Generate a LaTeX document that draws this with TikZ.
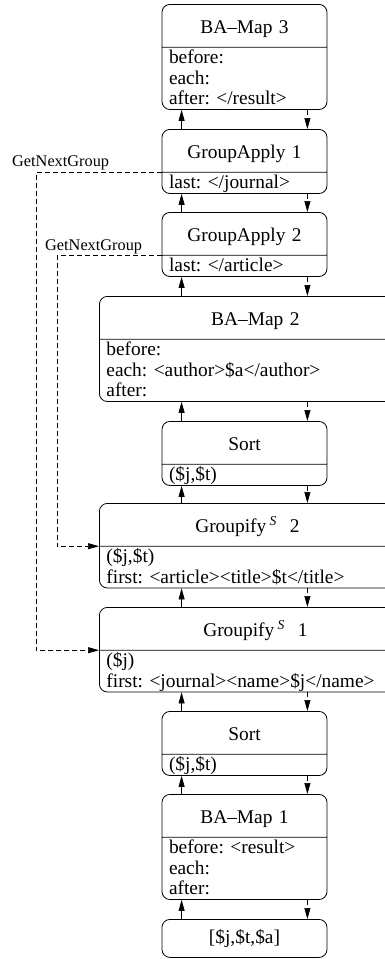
\documentclass[tikz,border=0pt]{standalone}
\usepackage{fontspec}
\setmainfont{Liberation Serif}
\usetikzlibrary{arrows.meta, shapes.multipart}
\frenchspacing

\newcommand{\boxfont}{\fontsize{19.4}{20.5}\selectfont\lineskiplimit=1000pt\relax\lineskip=0pt\relax}
\newcommand{\tstrut}{\rule[-13pt]{0pt}{42pt}}
\newcommand{\lstrut}{\rule[-4.5pt]{0pt}{20.5pt}}
\newcommand{\ttl}[1]{\hfill\tstrut #1\hfill\null}

\begin{document}
\begin{tikzpicture}[
    font=\boxfont,
    op/.style={rectangle split, rectangle split parts=2, draw, line width=0.8pt, rounded corners=8pt,
      inner xsep=7pt, inner ysep=0pt, text width=151pt, align=left, anchor=north},
    wide/.style={op, text width=298pt, anchor=north west},
    src/.style={draw, line width=0.8pt, rounded corners=8pt, inner xsep=7pt, inner ysep=0pt,
      text width=151pt, align=center, anchor=north},
    up/.style={-{Triangle[length=11pt,width=6pt]}, line width=0.7pt},
    dn/.style={up, dash pattern=on 5pt off 3pt},
    lbl/.style={font=\fontsize{16.3}{18}\selectfont, inner sep=0pt}
  ]
  \path[use as bounding box, clip] (0,0) rectangle (385pt,-959pt);

  \node[op] (bam3) at (244.5pt,-4pt)
    {\ttl{BA--Map 3}\nodepart{two}\lstrut before:\\\lstrut each:\\\lstrut after: </result>};
  \node[op] (ga1) at (244.5pt,-129pt)
    {\ttl{GroupApply 1}\nodepart{two}\lstrut last: </journal>};
  \node[op] (ga2) at (244.5pt,-212pt)
    {\ttl{GroupApply 2}\nodepart{two}\lstrut last: </article>};
  \node[wide] (bam2) at (99pt,-296pt)
    {\ttl{BA--Map 2}\nodepart{two}\lstrut before:\\\lstrut each: <author>\$a</author>\\\lstrut after:};
  \node[op] (sorta) at (244.5pt,-421pt)
    {\ttl{Sort}\nodepart{two}\lstrut (\$j,\$t)};
  \node[wide, text width=282pt] (grp2) at (99pt,-503pt)
    {\ttl{Groupify\,\textsuperscript{\textit{S}}\ \ 2}\nodepart{two}\lstrut (\$j,\$t)\\\lstrut first: <article><title>\$t</title>};
  \node[wide] (grp1) at (99pt,-607pt)
    {\ttl{Groupify\,\textsuperscript{\textit{S}}\ \ 1}\nodepart{two}\lstrut (\$j)\\\lstrut first: <journal><name>\$j</name>};
  \node[op] (sortb) at (244.5pt,-711pt)
    {\ttl{Sort}\nodepart{two}\lstrut (\$j,\$t)};
  \node[op] (bam1) at (244.5pt,-794pt)
    {\ttl{BA--Map 1}\nodepart{two}\lstrut before: <result>\\\lstrut each:\\\lstrut after:};
  \node[src] (src) at (244.5pt,-919pt) {\rule[-14pt]{0pt}{38pt}[\$j,\$t,\$a]};

  \coordinate (lx) at ([xshift=20pt]bam3.north west);
  \coordinate (rx) at ([xshift=-20pt]bam3.north east);
  \foreach \lo/\hi in {ga1/bam3, ga2/ga1, bam2/ga2, sorta/bam2, grp2/sorta, grp1/grp2, sortb/grp1, bam1/sortb, src/bam1} {
    \draw[up] (\lo.north -| lx) -- (\hi.south -| lx);
    \draw[dn] (\hi.south -| rx) -- (\lo.north -| rx);
  }

  % group feedback
  \coordinate (x1) at (36pt,0);
  \coordinate (x2) at (57pt,0);
  \coordinate (c1) at (ga1.one split west -| x1);
  \coordinate (c2) at (ga2.one split west -| x2);
  \draw[dn] (ga1.one split west) -- (c1) |- (grp1.one split west);
  \draw[dn] (ga2.one split west) -- (c2) |- (grp2.one split west);
  \node[lbl, anchor=base west] (gng1) at ([xshift=-24pt,yshift=6pt]c1) {GetNextGroup};
  \node[lbl, anchor=base west] (gng2) at ([xshift=-12pt,yshift=5pt]c2) {GetNextGroup};
\end{tikzpicture}
\end{document}
